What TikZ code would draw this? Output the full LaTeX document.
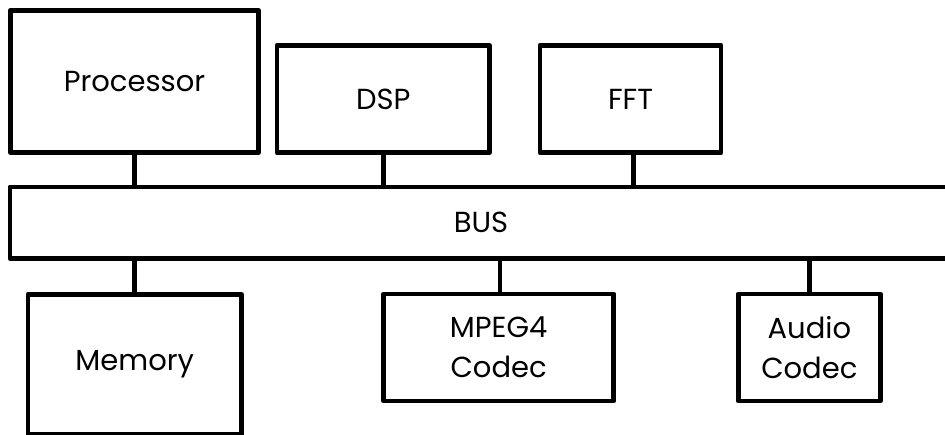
\documentclass[tikz,border=0pt]{standalone}
\usepackage{fontspec}
\setmainfont{Poppins}
\begin{document}
\begin{tikzpicture}[x=1pt,y=-1pt,
  blk/.style={draw=black, line width=4.8pt, line join=round, rectangle,
    inner sep=0pt, outer sep=0pt, align=center,
    font=\fontsize{29}{40}\selectfont},
  wire/.style={draw=black, line width=4.8pt}]
\clip (0,0) rectangle (945,435);
% upper row
\node[blk, minimum width=248.2pt, minimum height=142.2pt] (proc) at (134.5,81.5) {Processor};
\node[blk, minimum width=212.6pt, minimum height=107.2pt] (dsp) at (383.3,99) {DSP};
\node[blk, minimum width=181pt, minimum height=107.2pt] (fft) at (630.5,99) {FFT};
% system bus (runs off the right edge)
\node[blk, minimum width=942pt, minimum height=71.3pt] (bus) at (481,222.6) {BUS};
% lower row
\node[blk, minimum width=213.5pt, minimum height=140.2pt] (mem) at (134.75,364.5) {Memory};
\node[blk, minimum width=229.9pt, minimum height=107pt] (mpeg) at (498.65,347.5) {MPEG4\\Codec};
\node[blk, minimum width=141.9pt, minimum height=107pt] (audio) at (809.35,347.5) {Audio\\Codec};
% bus taps
\draw[wire] (proc.south) -- (proc.south |- bus.north);
\draw[wire] (dsp.south) -- (dsp.south |- bus.north);
\draw[wire] ([xshift=3.2pt]fft.south) -- ([xshift=3.2pt]fft.south |- bus.north);
\draw[wire] (mem.north) -- (mem.north |- bus.south);
\draw[wire] ([xshift=1.3pt]mpeg.north) -- ([xshift=1.3pt]mpeg.north |- bus.south);
\draw[wire] (audio.north) -- (audio.north |- bus.south);
\end{tikzpicture}
\end{document}
